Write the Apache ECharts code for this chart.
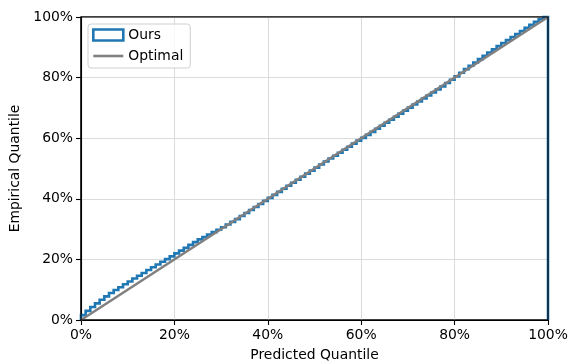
<!DOCTYPE html>
<html>
<head>
<meta charset="utf-8">
<script src="https://cdn.jsdelivr.net/npm/echarts@6/dist/echarts.min.js"></script>
<style>
html,body{margin:0;padding:0;background:#fff;}
#chart{width:573px;height:362px;}
</style>
</head>
<body>
<div id="chart"></div>
<script>
// Bin edges of the predicted quantile (percent)
const binEdges = [];
for (let i = 0; i <= 100; i++) binEdges.push(i);

// Empirical quantile (percent) for each of the 100 bins
const oursValues = [
  1.6, 3.0, 4.3, 5.5, 6.7, 7.8, 8.9, 9.9, 10.8, 11.8,
  12.7, 13.7, 14.6, 15.5, 16.5, 17.4, 18.3, 19.2, 20.1, 21.0,
  22.0, 22.9, 23.8, 24.8, 25.7, 26.6, 27.4, 28.2, 29.0, 29.8,
  30.6, 31.5, 32.4, 33.3, 34.3, 35.3, 36.3, 37.3, 38.3, 39.3,
  40.3, 41.3, 42.3, 43.3, 44.3, 45.3, 46.3, 47.3, 48.3, 49.3,
  50.3, 51.3, 52.3, 53.3, 54.2, 55.2, 56.2, 57.2, 58.2, 59.2,
  60.1, 61.1, 62.1, 63.1, 64.1, 65.1, 66.1, 67.1, 68.1, 69.1,
  70.1, 71.1, 72.1, 73.1, 74.1, 75.1, 76.1, 77.1, 78.2, 79.3,
  80.4, 81.6, 82.8, 83.9, 85.0, 86.1, 87.2, 88.3, 89.3, 90.4,
  91.4, 92.4, 93.4, 94.4, 95.4, 96.4, 97.4, 98.4, 99.3, 100.0
];

// Optimal diagonal endpoints
const optimalX = [0, 100];
const optimalY = [0, 100];

// Build step outline (like matplotlib histtype='step')
const stepPoints = [[binEdges[0], 0]];
for (let i = 0; i < oursValues.length; i++) {
  stepPoints.push([binEdges[i], oursValues[i]]);
  stepPoints.push([binEdges[i + 1], oursValues[i]]);
}
stepPoints.push([binEdges[binEdges.length - 1], 0]);

const optimalPoints = optimalX.map((x, i) => [x, optimalY[i]]);

const FONT = 'DejaVu Sans';
const FS = 13.9;
const LW = 2.6;
const chart = echarts.init(document.getElementById('chart'), null, {renderer: 'canvas'});
chart.setOption({
  animation: false,
  backgroundColor: '#fff',
  textStyle: {fontFamily: FONT},
  grid: {
    left: 81, right: 25, top: 17, bottom: 42,
    containLabel: false, outerBoundsMode: 'none',
    show: true, borderColor: '#000', borderWidth: 1.1, backgroundColor: 'transparent'
  },
  legend: {
    left: 88, top: 24, orient: 'vertical',
    padding: [4, 7, 5, 4],
    itemGap: 7,
    itemWidth: 30, itemHeight: 11, itemTextGap: 10,
    borderColor: '#d0d0d0', borderWidth: 1, borderRadius: 3,
    backgroundColor: 'rgba(255,255,255,0.8)',
    textStyle: {fontFamily: FONT, fontSize: FS, color: '#000'},
    data: [
      {name: 'Ours', icon: 'rect', itemStyle: {color: '#fff', borderColor: '#1f77b4', borderWidth: 2.6}},
      {name: 'Optimal', icon: 'path://M0,0 L0,0 M0,4.2 L30,4.2 L30,6.8 L0,6.8 Z M0,11 L0,11',
        itemStyle: {color: '#808080', borderWidth: 0}}
    ]
  },
  xAxis: {
    type: 'value', min: 0, max: 100, interval: 20,
    name: 'Predicted Quantile', nameLocation: 'middle', nameGap: 28,
    nameTextStyle: {fontFamily: FONT, fontSize: FS, color: '#000'},
    axisLine: {show: true, lineStyle: {color: '#000', width: 1.1}},
    axisTick: {show: true, length: 5, lineStyle: {color: '#000', width: 1.1}},
    axisLabel: {fontFamily: FONT, fontSize: FS, color: '#000', margin: 8,
      formatter: v => v + '%'},
    splitLine: {show: true, lineStyle: {color: '#dcdcdc', width: 1.1}}
  },
  yAxis: {
    type: 'value', min: 0, max: 100, interval: 20,
    name: 'Empirical Quantile', nameLocation: 'middle', nameGap: 56, nameRotate: 90,
    nameTextStyle: {fontFamily: FONT, fontSize: FS, color: '#000'},
    axisLine: {show: true, lineStyle: {color: '#000', width: 1.1}},
    axisTick: {show: true, length: 5, lineStyle: {color: '#000', width: 1.1}},
    axisLabel: {fontFamily: FONT, fontSize: FS, color: '#000', margin: 8,
      formatter: v => v + '%'},
    splitLine: {show: true, lineStyle: {color: '#dcdcdc', width: 1.1}}
  },
  series: [
    {
      name: 'Ours', type: 'line', data: stepPoints,
      showSymbol: false, symbol: 'none',
      lineStyle: {color: '#1f77b4', width: LW, join: 'miter'},
      itemStyle: {color: '#1f77b4'},
      clip: false
    },
    {
      name: 'Optimal', type: 'line', data: optimalPoints,
      showSymbol: false, symbol: 'none',
      lineStyle: {color: '#808080', width: LW},
      itemStyle: {color: '#808080'}
    }
  ]
});

// Spines drawn on top of the series (as matplotlib does), from the chart's own scales
const tl = chart.convertToPixel({gridIndex: 0}, [0, 100]);
const br = chart.convertToPixel({gridIndex: 0}, [100, 0]);
chart.setOption({
  graphic: [{
    type: 'rect', z: 100, silent: true,
    shape: {x: tl[0], y: tl[1], width: br[0] - tl[0], height: br[1] - tl[1]},
    style: {fill: 'none', stroke: '#000', lineWidth: 1.1}
  }]
});
</script>
</body>
</html>
